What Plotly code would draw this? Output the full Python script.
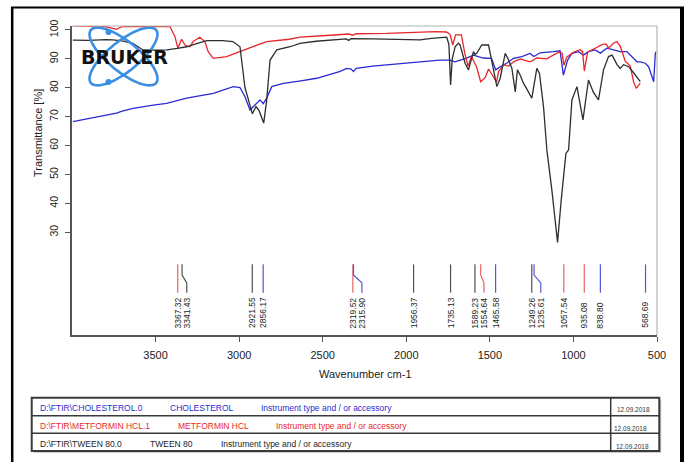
import numpy as np
import plotly.graph_objects as go

# ---------------- spectra: wavenumber (cm-1) / transmittance (%) ----------------
tween_wn = [3995, 3900, 3800, 3756, 3700, 3636, 3600, 3576, 3500, 3432, 3370, 3341, 3313,
            3250, 3193, 3100, 3037, 2995, 2965, 2945, 2921, 2899, 2880, 2853, 2835, 2815,
            2775, 2696, 2636, 2540, 2438, 2360, 2345, 2330, 2200, 2117, 2000, 1917, 1850,
            1758, 1745, 1735, 1725, 1708, 1688, 1678, 1648, 1628, 1610, 1598, 1589, 1578,
            1548, 1508, 1478, 1458, 1438, 1408, 1388, 1368, 1348, 1335, 1319, 1299, 1275,
            1249, 1219, 1203, 1179, 1159, 1129, 1095, 1073, 1045, 1029, 1019, 1009, 979,
            969, 943, 910, 889, 881, 850, 820, 790, 769, 739, 720, 700, 670, 640, 610, 600]
tween_t = [96.5, 96.4, 96.7, 96.6, 96.2, 95.4, 94.0, 93.1, 93.0, 93.1, 93.6, 93.9, 94.2,
           95.4, 96.3, 96.3, 96.0, 94.2, 80.0, 76.0, 71.0, 73.5, 72.0, 67.8, 75.8, 89.6,
           93.1, 94.2, 95.4, 96.1, 96.5, 96.9, 96.4, 97.0, 96.9, 96.8, 96.9, 96.6, 97.1,
           97.5, 95.0, 81.0, 90.0, 94.2, 95.4, 94.8, 88.5, 86.2, 90.0, 92.5, 91.5, 92.0,
           94.8, 94.8, 86.2, 80.4, 83.3, 91.9, 89.6, 86.7, 78.6, 86.2, 84.4, 81.6, 79.2,
           76.4, 86.7, 85.0, 73.5, 58.5, 44.6, 26.5, 41.2, 57.3, 58.5, 68.9, 75.8, 80.4,
           77.5, 68.9, 82.7, 79.2, 78.5, 75.8, 86.2, 90.8, 91.3, 88.0, 86.7, 88.0, 87.3,
           85.2, 82.7, 82.1]

metformin_wn = [3995, 3900, 3800, 3734, 3700, 3600, 3500, 3414, 3384, 3367, 3344, 3324,
                3295, 3275, 3235, 3205, 3185, 3155, 3075, 2995, 2916, 2835, 2700, 2636,
                2500, 2436, 2345, 2320, 2300, 2117, 1950, 1826, 1760, 1738, 1722, 1705,
                1670, 1650, 1630, 1610, 1580, 1555, 1528, 1508, 1460, 1448, 1418, 1388,
                1358, 1318, 1290, 1258, 1218, 1160, 1118, 1088, 1068, 1057, 1040, 1000,
                960, 945, 935, 915, 870, 830, 805, 790, 760, 740, 720, 690, 660, 640,
                624, 600]
metformin_t = [101.4, 101.3, 101.2, 100.2, 101.2, 101.3, 101.3, 101.2, 97.7, 93.7, 96.8,
               94.8, 94.2, 96.0, 97.5, 96.0, 92.5, 90.2, 90.8, 92.5, 94.2, 96.0, 96.8,
               97.5, 98.0, 98.3, 98.6, 98.2, 98.7, 98.8, 99.2, 99.4, 99.3, 98.5, 94.8,
               98.3, 98.3, 91.9, 87.5, 90.8, 87.3, 82.1, 83.5, 86.5, 82.0, 85.6, 87.9,
               87.5, 89.0, 90.0, 89.5, 89.0, 90.3, 90.0, 91.4, 92.3, 92.0, 87.8, 90.6,
               92.3, 93.2, 92.5, 85.8, 92.3, 93.7, 94.9, 95.2, 93.8, 95.4, 96.0, 94.4,
               89.2, 87.5, 82.1, 79.8, 81.6]

cholesterol_wn = [3995, 3900, 3834, 3780, 3734, 3700, 3634, 3514, 3434, 3314, 3155, 3035,
                  2995, 2965, 2935, 2915, 2895, 2875, 2856, 2835, 2805, 2736, 2640, 2536,
                  2400, 2356, 2330, 2316, 2300, 2200, 2117, 2000, 1900, 1800, 1738, 1708,
                  1640, 1598, 1540, 1490, 1465, 1438, 1400, 1358, 1308, 1260, 1236, 1200,
                  1120, 1080, 1060, 1035, 1009, 969, 940, 910, 870, 839, 800, 760, 720,
                  680, 650, 620, 600, 570, 550, 520, 510, 505]
cholesterol_t = [68.3, 69.3, 70.0, 70.6, 71.2, 71.9, 72.9, 74.0, 74.6, 76.4, 78.1, 80.4,
                 80.1, 76.9, 72.3, 73.5, 74.8, 75.8, 74.5, 76.4, 80.4, 81.5, 82.3, 83.3,
                 85.6, 86.7, 86.5, 85.6, 86.7, 87.5, 87.9, 88.6, 89.2, 89.6, 89.6, 89.0,
                 90.3, 91.3, 90.3, 90.2, 86.2, 87.3, 88.5, 90.2, 90.8, 91.9, 90.8, 92.1,
                 92.5, 92.8, 84.4, 89.6, 91.9, 92.5, 91.3, 92.5, 93.1, 92.0, 93.7, 93.1,
                 92.5, 92.5, 90.8, 89.0, 89.0, 88.5, 87.3, 82.1, 91.9, 92.5]

# ---------------- picked peaks ----------------
peak_wn = [3367.32, 3341.43, 2921.55, 2856.17, 2319.52, 2315.90, 1956.37, 1735.13, 1589.23,
           1554.64, 1465.58, 1249.26, 1235.61, 1057.54, 935.08, 838.80, 568.69]
peak_sample = ["METFORMIN HCL", "TWEEN 80", "TWEEN 80", "CHOLESTEROL", "METFORMIN HCL",
               "CHOLESTEROL", "TWEEN 80", "TWEEN 80", "TWEEN 80", "METFORMIN HCL",
               "CHOLESTEROL", "TWEEN 80", "CHOLESTEROL", "METFORMIN HCL", "METFORMIN HCL",
               "CHOLESTEROL", "CHOLESTEROL"]

x_ticks = [3500, 3000, 2500, 2000, 1500, 1000, 500]
y_ticks = [30, 40, 50, 60, 70, 80, 90, 100]

samples = ["CHOLESTEROL", "METFORMIN HCL", "TWEEN 80"]
sample_files = ["D:\\FTIR\\CHOLESTEROL.0", "D:\\FTIR\\METFORMIN HCL.1", "D:\\FTIR\\TWEEN 80.0"]
sample_note = "Instrument type and / or accessory"
sample_date = "12.09.2018"

# ---------------- styling / geometry ----------------
W, H = 688, 462
ML, MR, MT, MB = 72, 31, 26, 127
FONT = "Liberation Sans, Arial, sans-serif"

line_col = {"CHOLESTEROL": "#2a2ad2", "METFORMIN HCL": "#e8262b", "TWEEN 80": "#2e2e2e"}
mark_col = {"CHOLESTEROL": "#5656d6", "METFORMIN HCL": "#e86464", "TWEEN 80": "#505050"}
spectra = {"CHOLESTEROL": (cholesterol_wn, cholesterol_t),
           "METFORMIN HCL": (metformin_wn, metformin_t),
           "TWEEN 80": (tween_wn, tween_t)}


def px(x):
    return (x - ML) / (W - ML - MR)


def py(y):
    return (H - MB - y) / (H - MT - MB)


fig = go.Figure()

for name in ["CHOLESTEROL", "METFORMIN HCL", "TWEEN 80"]:
    wn, t = spectra[name]
    fig.add_trace(go.Scatter(x=wn, y=t, mode="lines", name=name, showlegend=False,
                             line=dict(color=line_col[name], width=1.3), hoverinfo="skip"))

# peak markers: labels spread apart when two peaks sit too close together
MIN_GAP = 54.0
LINE_TOP, BEND_A, BEND_B, LINE_BOT, LABEL_BASE = 18.9, 15.2, 12.5, 9.1, -3.9
label_pos = []
for i, w in enumerate(peak_wn):
    pos = w if i == 0 else min(w, label_pos[-1] - MIN_GAP)
    label_pos.append(pos)

annotations = []
for w, lp, s in zip(peak_wn, label_pos, peak_sample):
    if abs(lp - w) < 1e-6:
        xs, ys = [w, w], [LINE_TOP, LINE_BOT]
    else:
        xs, ys = [w, w, lp, lp], [LINE_TOP, BEND_A, BEND_B, LINE_BOT]
    fig.add_trace(go.Scatter(x=xs, y=ys, mode="lines", showlegend=False, hoverinfo="skip",
                             line=dict(color=mark_col[s], width=1.2)))
    annotations.append(dict(x=lp, y=LABEL_BASE, xref="x", yref="y", text=f"{w:.2f}",
                            textangle=-90, showarrow=False, xanchor="center", yanchor="bottom",
                            font=dict(family=FONT, size=8.5, color="#222")))

# axis titles
annotations.append(dict(x=px(365), y=py(374), xref="paper", yref="paper",
                        text="Wavenumber cm-1", showarrow=False,
                        xanchor="center", yanchor="middle",
                        font=dict(family=FONT, size=11, color="#222")))
annotations.append(dict(x=px(38), y=py(133), xref="paper", yref="paper",
                        text="Transmittance [%]", textangle=-90, showarrow=False,
                        xanchor="center", yanchor="middle",
                        font=dict(family=FONT, size=11, color="#222")))

# logo
annotations.append(dict(x=px(124), y=py(57), xref="paper", yref="paper", text="<b>BRUKER</b>",
                        showarrow=False, xanchor="center", yanchor="middle",
                        font=dict(family="DejaVu Sans, sans-serif", size=19, color="#111")))

shapes = []


def ellipse_path(cx, cy, a, b, ang):
    th = np.linspace(0, 2 * np.pi, 73)
    c, s = np.cos(np.radians(ang)), np.sin(np.radians(ang))
    xs = cx + a * np.cos(th) * c - b * np.sin(th) * s
    ys = cy + a * np.cos(th) * s + b * np.sin(th) * c
    pts = [f"{px(x):.5f},{py(y):.5f}" for x, y in zip(xs, ys)]
    return "M" + " L".join(pts) + " Z"


for ang in (39, -39):
    shapes.append(dict(type="path", xref="paper", yref="paper",
                       path=ellipse_path(123.5, 56.5, 42, 15, ang),
                       line=dict(color="#3a8fe2", width=2.6), layer="above"))
for dx, dy in ((108.5, 32), (108.5, 82)):
    shapes.append(dict(type="circle", xref="paper", yref="paper",
                       x0=px(dx - 3), x1=px(dx + 3), y0=py(dy - 3), y1=py(dy + 3),
                       fillcolor="#3a8fe2", line=dict(width=0), layer="above"))

# light frame on the top and right of the plotting area
shapes.append(dict(type="line", xref="paper", yref="paper", x0=0, x1=1, y0=1, y1=1,
                   line=dict(color="#b4b4b4", width=1.2)))
shapes.append(dict(type="line", xref="paper", yref="paper", x0=1, x1=1, y0=0, y1=1,
                   line=dict(color="#b4b4b4", width=1.2)))

# page frame
shapes.append(dict(type="line", xref="paper", yref="paper", x0=px(11), x1=px(684),
                   y0=py(7.5), y1=py(7.5), line=dict(color="#000", width=2)))
shapes.append(dict(type="line", xref="paper", yref="paper", x0=px(12.2), x1=px(12.2),
                   y0=py(7), y1=py(470), line=dict(color="#000", width=2.5)))
shapes.append(dict(type="line", xref="paper", yref="paper", x0=px(682), x1=px(682),
                   y0=py(7), y1=py(470), line=dict(color="#000", width=4)))

# sample table
TX0, TX1, TY0, TY1, TDIV = 31.7, 659.3, 397.7, 451.0, 610.7
row_lines = [415.7, 433.3]
shapes.append(dict(type="rect", xref="paper", yref="paper", x0=px(TX0 + 2), x1=px(TX1 + 2),
                   y0=py(TY0 + 2), y1=py(TY1 + 2), line=dict(width=0), fillcolor="#cfcfcf",
                   layer="below"))
shapes.append(dict(type="rect", xref="paper", yref="paper", x0=px(TX0), x1=px(TX1),
                   y0=py(TY0), y1=py(TY1), line=dict(color="#3a3a3a", width=2),
                   fillcolor="white", layer="below"))
for ry in row_lines:
    shapes.append(dict(type="line", xref="paper", yref="paper", x0=px(TX0), x1=px(TX1),
                       y0=py(ry), y1=py(ry), line=dict(color="#3a3a3a", width=1.5)))
shapes.append(dict(type="line", xref="paper", yref="paper", x0=px(TDIV), x1=px(TDIV),
                   y0=py(TY0), y1=py(TY1), line=dict(color="#3a3a3a", width=1.5)))

row_y = [408.3, 426.0, 444.3]
date_y = [410.0, 428.3, 446.0]
name_x = [168.3, 176.0, 148.3]
note_x = [259.3, 274.0, 219.3]
date_x = [615.0, 611.5, 614.0]
for i, s in enumerate(samples):
    col = line_col[s] if s != "TWEEN 80" else "#1e1e1e"
    for tx, txt in ((38.3, sample_files[i]), (name_x[i], s), (note_x[i], sample_note)):
        annotations.append(dict(x=px(tx), y=py(row_y[i]), xref="paper", yref="paper",
                                text=txt, showarrow=False, xanchor="left", yanchor="middle",
                                font=dict(family=FONT, size=8.5, color=col)))
    annotations.append(dict(x=px(date_x[i]), y=py(date_y[i]), xref="paper", yref="paper",
                            text=sample_date, showarrow=False, xanchor="left",
                            yanchor="middle", font=dict(family=FONT, size=6.5, color="#333")))

fig.update_layout(
    width=W, height=H, margin=dict(l=ML, r=MR, t=MT, b=MB),
    paper_bgcolor="white", plot_bgcolor="white",
    font=dict(family=FONT, size=11, color="#222"),
    annotations=annotations, shapes=shapes, showlegend=False,
    xaxis=dict(range=[4000, 500], tickvals=x_ticks, ticktext=[str(v) for v in x_ticks],
               ticks="outside", ticklen=5, tickwidth=1.2, tickcolor="#555",
               showline=True, linecolor="#555", linewidth=1.6, showgrid=False,
               zeroline=False, tickfont=dict(size=11, color="#222"), ticklabelstandoff=4),
    yaxis=dict(range=[-5.54, 101.38], tickvals=y_ticks, tickangle=-90,
               ticks="outside", ticklen=5, tickwidth=1.2, tickcolor="#555",
               showline=True, linecolor="#555", linewidth=1.6, showgrid=False,
               zeroline=False, tickfont=dict(size=10.5, color="#222"), ticklabelstandoff=3),
)

fig.write_html("out.html")
